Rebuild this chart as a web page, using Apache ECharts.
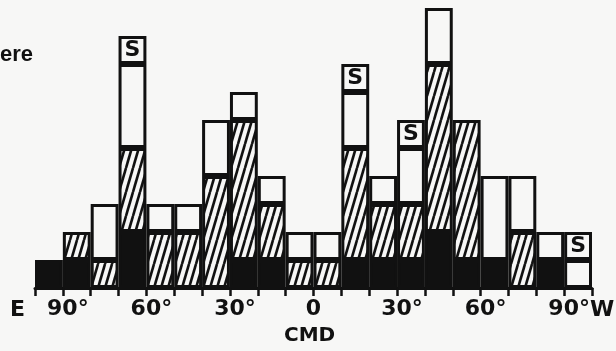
<!DOCTYPE html>
<html>
<head>
<meta charset="utf-8">
<script src="https://cdn.jsdelivr.net/npm/echarts@6/dist/echarts.min.js"></script>
<style>
html,body{margin:0;padding:0;background:#f7f7f6;}
#chart{width:616px;height:351px;}
</style>
</head>
<body>
<div id="chart"></div>
<script>
// 10 degree bins from 100E (left) to 100W (right)
var bins = ['100-90E','90-80E','80-70E','70-60E','60-50E','50-40E','40-30E','30-20E','20-10E','10-0E',
            '0-10W','10-20W','20-30W','30-40W','40-50W','50-60W','60-70W','70-80W','80-90W','90-100W'];
var blackVals   = [1,1,0,2,0,0,0,1,1,0,0,1,1,1,2,1,1,0,1,0];
var hatchedVals = [0,1,1,3,2,2,4,5,2,1,1,4,2,2,6,5,0,2,0,0];
var whiteVals   = [0,0,2,3,1,1,2,1,1,1,1,2,1,2,2,0,3,2,1,1];
var sVals       = [0,0,0,1,0,0,0,0,0,0,0,1,0,1,0,0,0,0,0,1];
var tickLabels = {'-90':'90°','-60':'60°','-30':'30°','0':'0','30':'30°','60':'60°','90':'90°'};

var ink = '#111';
var paper = '#f7f7f6';

function hatch() {
    // steep "////" lines
    var w = 7, h = 24;
    var c = document.createElement('canvas');
    c.width = w; c.height = h;
    var g = c.getContext('2d');
    g.fillStyle = paper;
    g.fillRect(0, 0, w, h);
    g.strokeStyle = ink;
    g.lineWidth = 2.6;
    for (var k = -1; k <= 1; k++) {
        g.beginPath();
        g.moveTo(k * w, h);
        g.lineTo(k * w + w, 0);
        g.stroke();
    }
    return c;
}

function clean(arr) {
    return arr.map(function (v) { return v === 0 ? '-' : v; });
}

var chart = echarts.init(document.getElementById('chart'));

function layer(name, vals, fill, lbl) {
    var s = {
        name: name,
        type: 'bar',
        stack: 'n',
        xAxisIndex: 0,
        barWidth: '100%',
        data: clean(vals),
        itemStyle: {color: fill, borderColor: ink, borderWidth: 3},
        emphasis: {disabled: true},
        animation: false
    };
    if (lbl) {
        s.label = {
            show: true, position: 'inside', formatter: 'S',
            color: ink, fontSize: 22, fontWeight: 'bold', fontFamily: 'DejaVu Sans'
        };
    }
    return s;
}

var lab = {color: ink, fontSize: 22, fontWeight: 'bold', fontFamily: 'DejaVu Sans'};

var option = {
    backgroundColor: paper,
    animation: false,
    grid: {left: 35, right: 24, top: 8, bottom: 63},
    xAxis: [
        {type: 'category', data: bins, show: false, boundaryGap: true},
        {
            type: 'value', min: -100, max: 100, interval: 10, position: 'bottom',
            splitLine: {show: false},
            axisLine: {show: true, onZero: false, lineStyle: {color: ink, width: 3}},
            axisTick: {show: true, length: 8, lineStyle: {color: ink, width: 2.5}},
            axisLabel: {
                margin: 10, color: ink, fontSize: 22, fontWeight: 'bold', fontFamily: 'DejaVu Sans',
                padding: [0, 0, 0, 10],
                formatter: function (v) {
                    var t = tickLabels[String(v)];
                    if (t === undefined) return '';
                    return v === 0 ? '{z|0}' : t;
                },
                rich: {z: {fontSize: 22, fontWeight: 'bold', fontFamily: 'DejaVu Sans', color: ink, padding: [0, 10, 0, 0]}}
            }
        }
    ],
    yAxis: {type: 'value', min: 0, max: 10, show: false},
    series: [
        layer('black', blackVals, ink),
        layer('hatched', hatchedVals, {image: hatch(), repeat: 'repeat'}),
        layer('white', whiteVals, paper),
        layer('S', sVals, paper, true)
    ],
    graphic: [
        {type: 'text', left: 0, top: 44, style: {text: 'ere', fill: ink, fontSize: 22, fontWeight: 'bold', fontFamily: 'Liberation Sans'}},
        {type: 'text', left: 10, top: 299, style: {text: 'E', fill: ink, fontSize: 22, fontWeight: 'bold', fontFamily: 'DejaVu Sans'}},
        {type: 'text', left: 590, top: 299, style: {text: 'W', fill: ink, fontSize: 22, fontWeight: 'bold', fontFamily: 'DejaVu Sans'}},
        {type: 'text', left: 284, top: 326, style: {text: 'CMD', fill: ink, fontSize: 20, fontWeight: 'bold', fontFamily: 'DejaVu Sans'}}
    ]
};
chart.setOption(option);
</script>
</body>
</html>
